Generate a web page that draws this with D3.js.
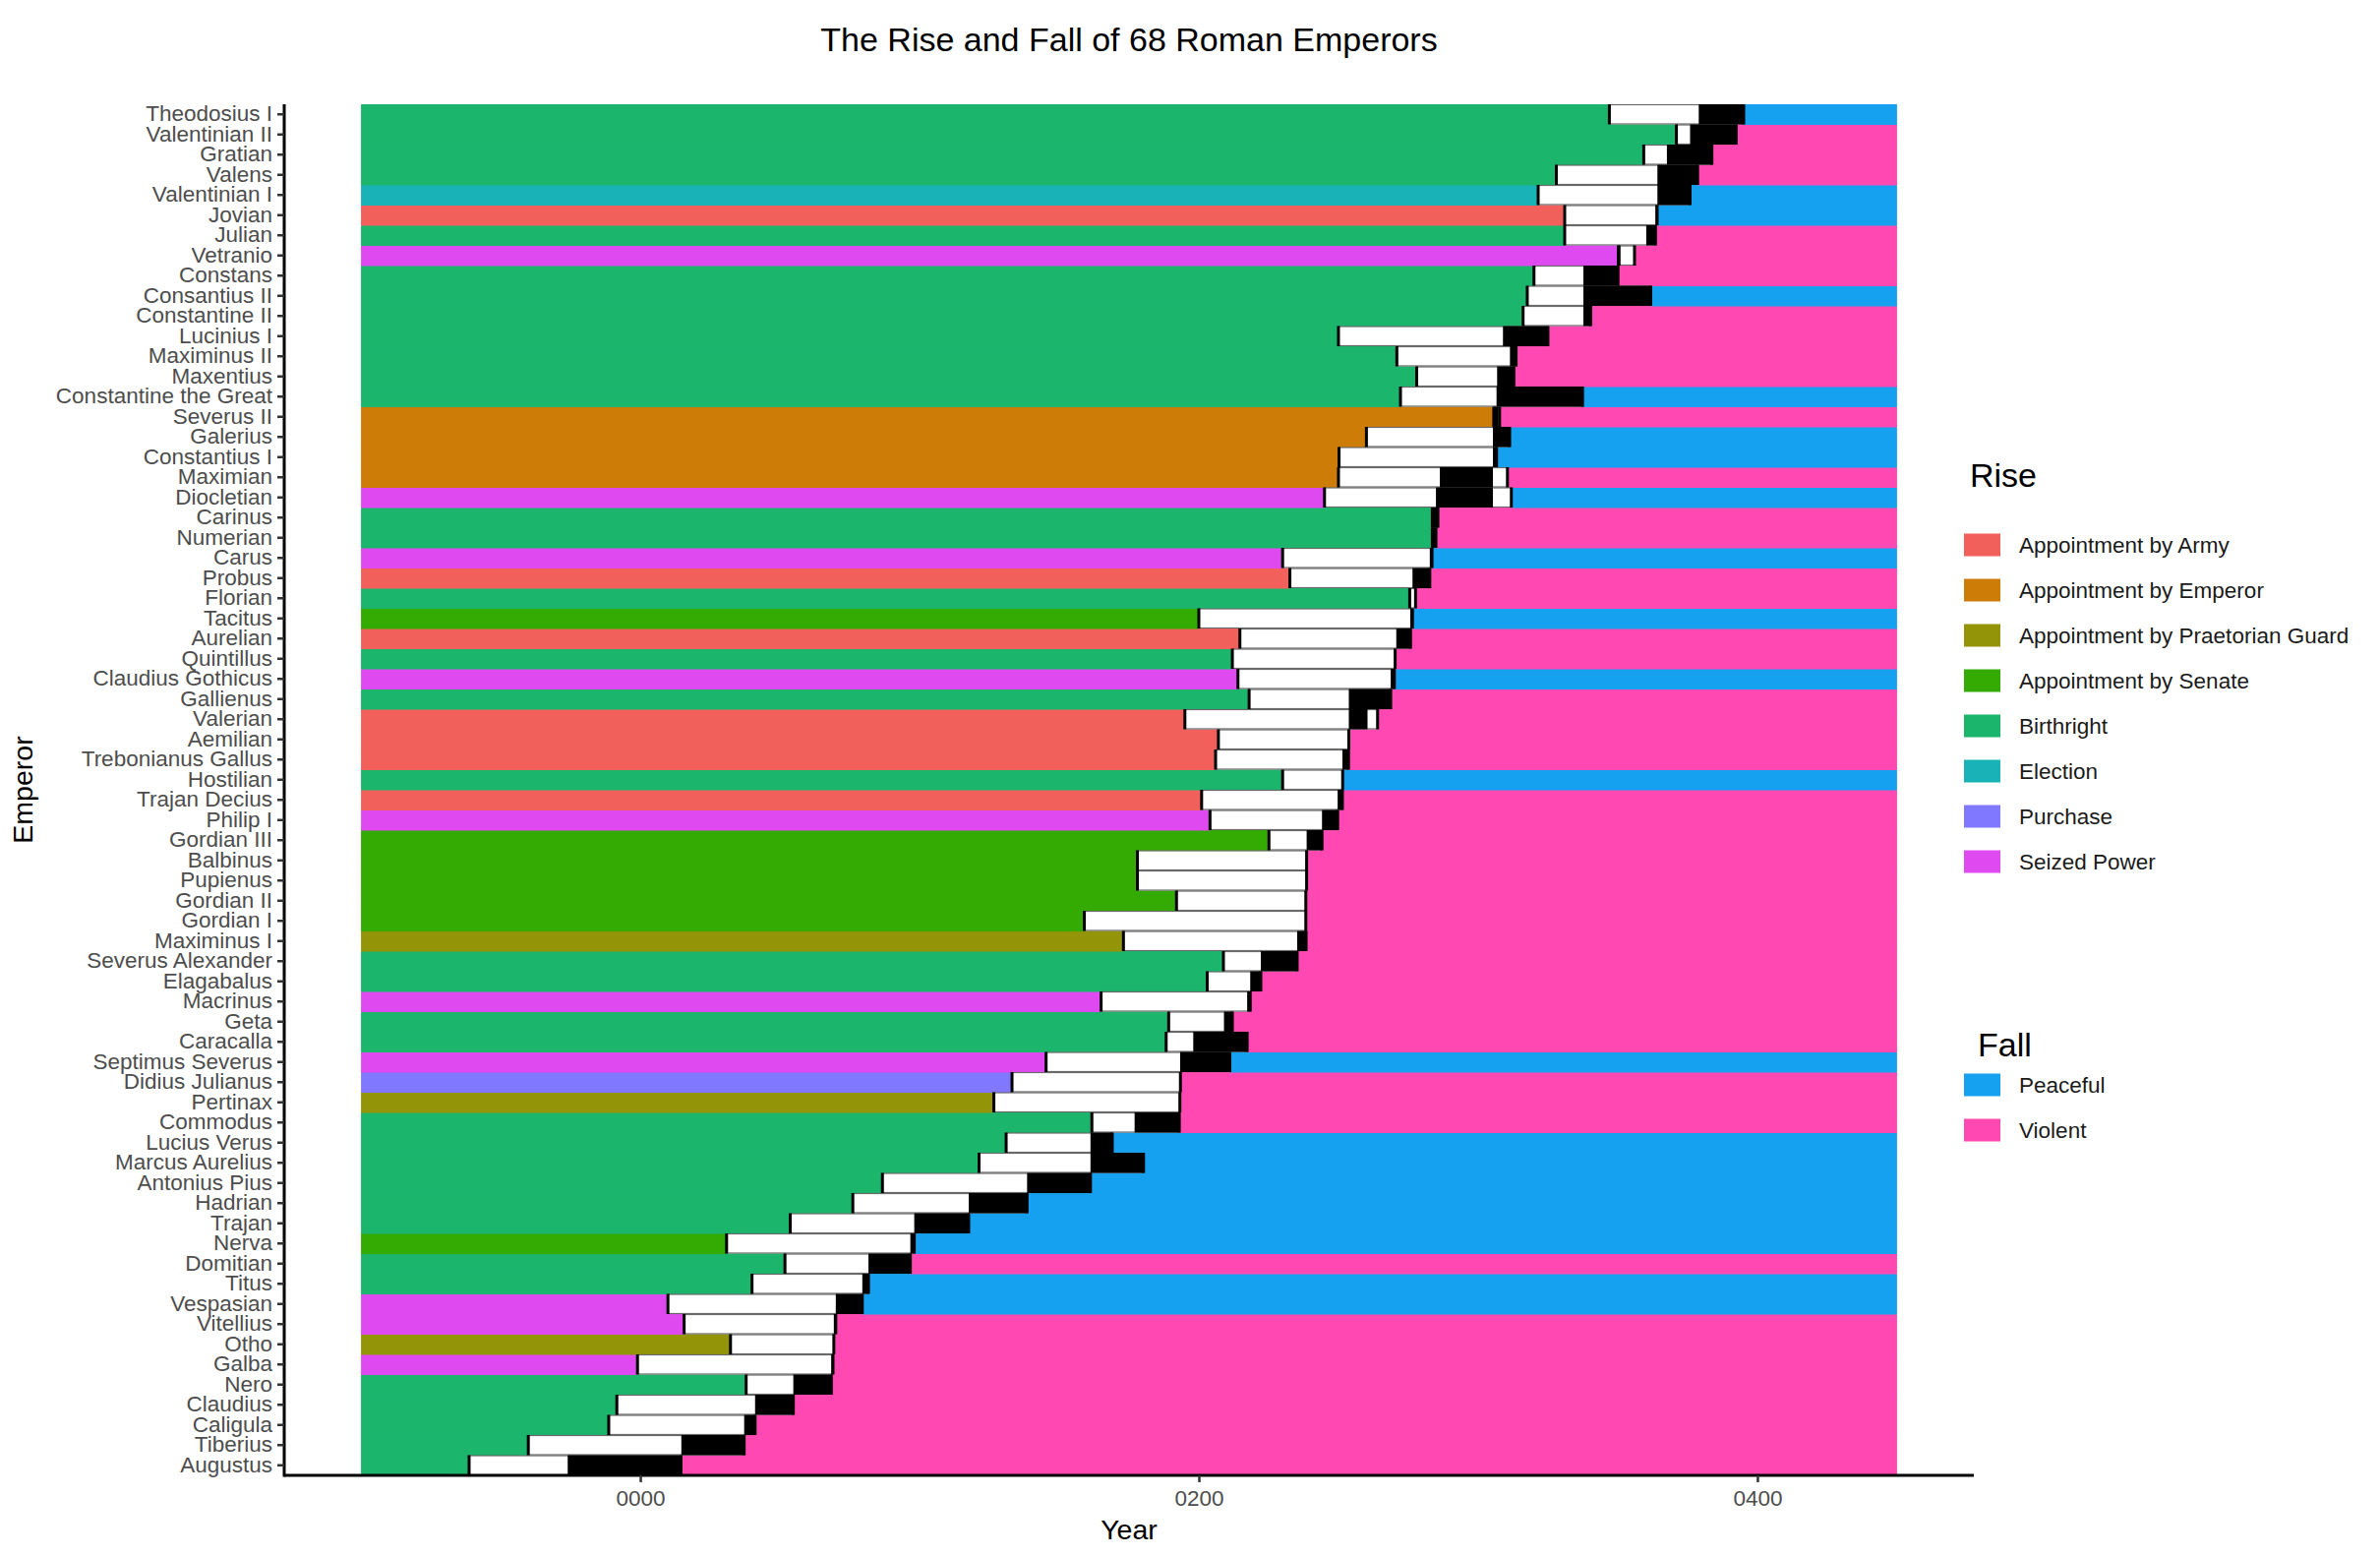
<!DOCTYPE html>
<html>
<head>
<meta charset="utf-8">
<script src="https://cdn.jsdelivr.net/npm/d3@7"></script>
<style>
  body { margin: 0; background: #ffffff; }
  text { font-family: "Liberation Sans", Arial, Helvetica, sans-serif; }
</style>
</head>
<body>
<div id="chart"></div>
<script>
// setting up constants
const FRAME_WIDTH = 2420;
const FRAME_HEIGHT = 1582;
const PANEL = {left: 289, right: 2007, top: 106, bottom: 1500};

// emperors in order of reign (bottom of the chart to the top)
const EMPERORS = ["Augustus", "Tiberius", "Caligula", "Claudius", "Nero", "Galba", "Otho", "Vitellius", "Vespasian", "Titus",
  "Domitian", "Nerva", "Trajan", "Hadrian", "Antonius Pius", "Marcus Aurelius", "Lucius Verus", "Commodus", "Pertinax", "Didius Julianus",
  "Septimus Severus", "Caracalla", "Geta", "Macrinus", "Elagabalus", "Severus Alexander", "Maximinus I", "Gordian I", "Gordian II", "Pupienus",
  "Balbinus", "Gordian III", "Philip I", "Trajan Decius", "Hostilian", "Trebonianus Gallus", "Aemilian", "Valerian", "Gallienus", "Claudius Gothicus",
  "Quintillus", "Aurelian", "Tacitus", "Florian", "Probus", "Carus", "Numerian", "Carinus", "Diocletian", "Maximian",
  "Constantius I", "Galerius", "Severus II", "Constantine the Great", "Maxentius", "Maximinus II", "Lucinius I", "Constantine II", "Consantius II", "Constans",
  "Vetranio", "Julian", "Jovian", "Valentinian I", "Valens", "Gratian", "Valentinian II", "Theodosius I"];

// years as decimals, null where the birth is unknown
const BIRTH = [-61.3, -40.1, -11.3, -8.4, 37.9, -1.0, 32.3, 15.7, 9.9, 40.0,
  51.8, 30.9, 53.7, 76.1, 86.7, 121.3, 131.0, 161.7, 126.6, 133.1,
  145.3, 188.3, 189.2, 165.0, 203.0, 208.8, 173.0, 159.0, 192.0, 178.0,
  178.0, 225.1, 204.0, 201.0, 230.0, 206.0, 207.0, 195.0, 218.0, 214.0,
  212.0, 214.7, 200.0, null, 232.6, 230.0, null, null, 245.0, 250.0,
  250.2, 260.0, null, 272.2, 278.0, 270.9, 250.0, 316.1, 317.6, 320.0,
  null, 331.0, 331.0, 321.5, 328.0, 359.3, 371.0, 347.0];

const REIGN_START = [-26.0, 14.7, 37.2, 41.1, 54.8, 68.4, 69.0, 69.3, 70.0, 79.5,
  81.7, 96.7, 98.1, 117.6, 138.5, 161.2, 161.2, 177.0, 193.0, 193.2,
  193.3, 198.0, 209.0, 217.3, 218.4, 222.2, 235.2, 238.2, 238.2, 238.3,
  238.3, 238.6, 244.1, 249.7, 251.4, 251.4, 253.5, 253.7, 253.7, 268.7,
  270.0, 270.7, 275.7, 275.5, 276.5, 282.7, 283.6, 283.6, 284.9, 286.3,
  305.3, 305.3, 305.6, 306.6, 306.8, 311.4, 308.9, 337.7, 337.7, 337.7,
  350.2, 360.2, 363.5, 364.2, 364.2, 367.6, 375.9, 379.0];

const REIGN_END = [14.6, 37.2, 41.1, 54.8, 68.4, 69.0, 69.3, 70.0, 79.5, 81.7,
  96.7, 98.1, 117.6, 138.5, 161.2, 180.2, 169.0, 193.0, 193.2, 193.4,
  211.1, 217.3, 212.0, 218.4, 222.2, 235.2, 238.4, 238.3, 238.3, 238.6,
  238.6, 244.1, 249.7, 251.4, 251.5, 253.6, 253.7, 260.4, 268.7, 270.0,
  270.3, 275.8, 276.5, 275.5, 282.7, 283.5, 284.9, 285.6, 305.3, 305.3,
  306.6, 311.3, 307.3, 337.4, 312.8, 313.6, 324.7, 340.3, 361.8, 350.1,
  351.0, 363.5, 364.1, 375.9, 378.6, 383.7, 392.4, 395.1];

const DEATH = [14.6, 37.2, 41.1, 54.8, 68.4, 69.0, 69.3, 70.0, 79.5, 81.7,
  96.7, 98.1, 117.6, 138.5, 161.2, 180.2, 169.0, 193.0, 193.2, 193.4,
  211.1, 217.3, 212.0, 218.4, 222.2, 235.2, 238.4, 238.3, 238.3, 238.6,
  238.6, 244.1, 249.7, 251.4, 251.5, 253.6, 253.7, 264.0, 268.7, 270.0,
  270.3, 275.8, 276.5, 277.6, 282.7, 283.5, 284.9, 285.6, 311.9, 310.5,
  306.6, 311.3, 307.7, 337.4, 312.8, 313.6, 325.0, 340.3, 361.8, 350.1,
  356.0, 363.5, 364.1, 375.9, 378.6, 383.7, 392.4, 395.1];

const ARMY = "Appointment by Army", EMP = "Appointment by Emperor", PRAE = "Appointment by Praetorian Guard",
  SEN = "Appointment by Senate", BIR = "Birthright", ELE = "Election", PUR = "Purchase", SEI = "Seized Power";

const RISE = [BIR, BIR, BIR, BIR, BIR, SEI, PRAE, SEI, SEI, BIR,
  BIR, SEN, BIR, BIR, BIR, BIR, BIR, BIR, PRAE, PUR,
  SEI, BIR, BIR, SEI, BIR, BIR, PRAE, SEN, SEN, SEN,
  SEN, SEN, SEI, ARMY, BIR, ARMY, ARMY, ARMY, BIR, SEI,
  BIR, ARMY, SEN, BIR, ARMY, SEI, BIR, BIR, SEI, EMP,
  EMP, EMP, EMP, BIR, BIR, BIR, BIR, BIR, BIR, BIR,
  SEI, BIR, ARMY, ELE, BIR, BIR, BIR, BIR];

const FALL = ["Violent", "Violent", "Violent", "Violent", "Violent", "Violent", "Violent", "Violent", "Peaceful", "Peaceful",
  "Violent", "Peaceful", "Peaceful", "Peaceful", "Peaceful", "Peaceful", "Peaceful", "Violent", "Violent", "Violent",
  "Peaceful", "Violent", "Violent", "Violent", "Violent", "Violent", "Violent", "Violent", "Violent", "Violent",
  "Violent", "Violent", "Violent", "Violent", "Peaceful", "Violent", "Violent", "Violent", "Violent", "Peaceful",
  "Violent", "Violent", "Peaceful", "Violent", "Violent", "Peaceful", "Violent", "Violent", "Peaceful", "Violent",
  "Peaceful", "Peaceful", "Violent", "Peaceful", "Violent", "Violent", "Violent", "Violent", "Peaceful", "Violent",
  "Violent", "Violent", "Peaceful", "Peaceful", "Violent", "Violent", "Violent", "Peaceful"];

const RISE_LEVELS = [ARMY, EMP, PRAE, SEN, BIR, ELE, PUR, SEI];
const RISE_COLORS = ["#F2605C", "#CD7D07", "#939408", "#33AB02", "#1BB56C", "#19B3B7", "#8078FF", "#DE4AEF"];
const FALL_LEVELS = ["Peaceful", "Violent"];
const FALL_COLORS = ["#16A1F0", "#FF48B1"];

// the bars run from X_START to X_END
const X_START = -100;
const X_END = 450;
const X_TICKS = [0, 200, 400];

// one record per emperor
const data = EMPERORS.map((name, i) => ({
  name: name,
  start: BIRTH[i] === null ? REIGN_START[i] : BIRTH[i],
  reignStart: REIGN_START[i],
  reignEnd: REIGN_END[i],
  death: DEATH[i],
  rise: RISE[i],
  fall: FALL[i]
}));

const FRAME = d3.select("#chart")
  .append("svg")
  .attr("width", FRAME_WIDTH)
  .attr("height", FRAME_HEIGHT);

// scales
const pad = (X_END - X_START) * 0.05;
const xScale = d3.scaleLinear()
  .domain([X_START - pad, X_END + pad])
  .range([PANEL.left, PANEL.right]);

const yScale = d3.scaleBand()
  .domain(EMPERORS.slice().reverse())
  .range([PANEL.top, PANEL.bottom]);

const riseColor = d3.scaleOrdinal().domain(RISE_LEVELS).range(RISE_COLORS);
const fallColor = d3.scaleOrdinal().domain(FALL_LEVELS).range(FALL_COLORS);

const bars = FRAME.append("g");

// rise bars (from the left edge up to birth)
bars.selectAll(".rise")
  .data(data)
  .enter()
  .append("rect")
  .attr("x", d => xScale(X_START))
  .attr("y", d => yScale(d.name))
  .attr("width", d => xScale(d.start) - xScale(X_START))
  .attr("height", yScale.bandwidth() + 0.5)
  .attr("fill", d => riseColor(d.rise));

// fall bars (from death to the right edge)
bars.selectAll(".fall")
  .data(data)
  .enter()
  .append("rect")
  .attr("x", d => xScale(d.death))
  .attr("y", d => yScale(d.name))
  .attr("width", d => xScale(X_END) - xScale(d.death))
  .attr("height", yScale.bandwidth() + 0.5)
  .attr("fill", d => fallColor(d.fall));

// life boxes, birth to death
bars.selectAll(".life")
  .data(data)
  .enter()
  .append("rect")
  .attr("x", d => xScale(d.start))
  .attr("y", d => yScale(d.name) + 0.5)
  .attr("width", d => xScale(d.death) - xScale(d.start))
  .attr("height", yScale.bandwidth() - 1)
  .attr("fill", "#ffffff")
  .attr("stroke", "#6a6a6a")
  .attr("stroke-width", 1.2);

// darker ends of the life boxes
bars.selectAll(".edge")
  .data(data.flatMap(d => [{name: d.name, x: d.start}, {name: d.name, x: d.death}]))
  .enter()
  .append("line")
  .attr("x1", d => xScale(d.x))
  .attr("x2", d => xScale(d.x))
  .attr("y1", d => yScale(d.name))
  .attr("y2", d => yScale(d.name) + yScale.bandwidth())
  .attr("stroke", "#000000")
  .attr("stroke-width", 3);

// reign
bars.selectAll(".reign")
  .data(data)
  .enter()
  .append("rect")
  .attr("x", d => xScale(d.reignStart))
  .attr("y", d => yScale(d.name))
  .attr("width", d => xScale(d.reignEnd) - xScale(d.reignStart))
  .attr("height", yScale.bandwidth())
  .attr("fill", "#000000");

// y-axis
const yAxis = FRAME.append("g")
  .attr("transform", "translate(" + PANEL.left + ",0)")
  .call(d3.axisLeft(yScale).tickSize(7).tickPadding(5));

// x-axis
const xAxis = FRAME.append("g")
  .attr("transform", "translate(0," + PANEL.bottom + ")")
  .call(d3.axisBottom(xScale)
    .tickValues(X_TICKS)
    .tickSize(7)
    .tickPadding(8)
    .tickFormat(d => String(d).padStart(4, "0")));

[yAxis, xAxis].forEach(ax => {
  ax.select(".domain").attr("stroke", "#000000").attr("stroke-width", 3);
  ax.selectAll(".tick line").attr("stroke", "#333333").attr("stroke-width", 2.5);
  ax.selectAll(".tick text")
    .attr("fill", "#4d4d4d")
    .style("font-size", "22.5px")
    .style("font-family", "'Liberation Sans', Arial, sans-serif");
});
xAxis.select(".domain").attr("d", "M" + PANEL.left + ",0H" + PANEL.right);
yAxis.select(".domain").attr("d", "M0," + PANEL.top + "V" + (PANEL.bottom + 1.5));

// titles
const midX = (PANEL.left + PANEL.right) / 2;
FRAME.append("text")
  .attr("x", midX)
  .attr("y", 52)
  .attr("text-anchor", "middle")
  .style("font-size", "34px")
  .text("The Rise and Fall of 68 Roman Emperors");

FRAME.append("text")
  .attr("x", midX)
  .attr("y", 1565)
  .attr("text-anchor", "middle")
  .style("font-size", "28.5px")
  .text("Year");

FRAME.append("text")
  .attr("transform", "translate(33," + ((PANEL.top + PANEL.bottom) / 2) + ") rotate(-90)")
  .attr("text-anchor", "middle")
  .style("font-size", "28.5px")
  .text("Emperor");

// legends
function makeLegend(title, titleX, titleY, firstY, levels, colors) {
  const g = FRAME.append("g");
  g.append("text")
    .attr("x", titleX)
    .attr("y", titleY)
    .style("font-size", "34px")
    .text(title);
  levels.forEach((lev, i) => {
    const cy = firstY + i * 46;
    g.append("rect")
      .attr("x", 1997)
      .attr("y", cy - 11.5)
      .attr("width", 37)
      .attr("height", 23)
      .attr("fill", colors[i]);
    g.append("text")
      .attr("x", 2053)
      .attr("y", cy)
      .attr("dy", "0.36em")
      .attr("fill", "#1a1a1a")
      .style("font-size", "22.5px")
      .text(lev);
  });
}

makeLegend("Rise", 2003, 495, 554, RISE_LEVELS, RISE_COLORS);
makeLegend("Fall", 2011, 1074, 1103, FALL_LEVELS, FALL_COLORS);
</script>
</body>
</html>
